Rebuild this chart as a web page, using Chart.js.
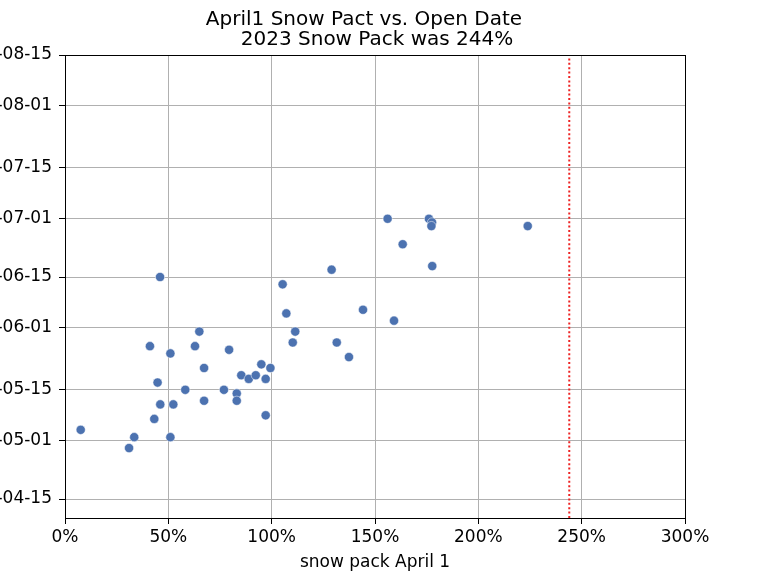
<!DOCTYPE html>
<html>
<head>
<meta charset="utf-8">
<script src="https://cdn.jsdelivr.net/npm/chart.js@4.4.0/dist/chart.umd.min.js"></script>
<style>
    html, body { margin: 0; padding: 0; overflow: hidden; background: #fff; }
    /* canvas pushed left so the year part of the date labels falls off screen */
    #wrap { position: absolute; left: -100px; top: 0; width: 863px; height: 584px; }
</style>
</head>
<body>
<div id="wrap"><canvas id="chart" width="863" height="584"></canvas></div>
<script>
// ============================================
// DATOS
// ============================================
const snowPack = [46, 105.3, 107.1, 111.4, 110.2, 65, 41.1, 62.9, 51, 79.4,
    67.3, 95, 99.4, 85.3, 88.9, 92.3, 97.1, 44.8, 58.2, 76.9,
    83.1, 83.1, 67.3, 46.1, 52.4, 97.1, 43.2, 7.6, 33.5, 51,
    31, 156.1, 176.1, 177.6, 177.3, 223.9, 163.4, 177.7, 129, 144.2,
    159.2, 131.5, 137.4];
const openDates = ['06-15', '06-13', '06-05', '05-31', '05-28', '05-31', '05-27', '05-27', '05-25', '05-26',
    '05-21', '05-22', '05-21', '05-19', '05-18', '05-19', '05-18', '05-17', '05-15', '05-15',
    '05-14', '05-12', '05-12', '05-11', '05-11', '05-08', '05-07', '05-04', '05-02', '05-02',
    '04-29', '07-01', '07-01', '06-30', '06-29', '06-29', '06-24', '06-18', '06-17', '06-06',
    '06-03', '05-28', '05-24'];
const snowPack2023 = 244;
const xTicks = [0, 50, 100, 150, 200, 250, 300];
const yTickDates = ['04-15', '05-01', '05-15', '06-01', '06-15', '07-01', '07-15', '08-01', '08-15'];
const tickYear = '2023';

// dias desde el 1 de abril
const monthStart = { '04': 0, '05': 30, '06': 61, '07': 91, '08': 122 };
function dayOffset(md) {
    const [m, d] = md.split('-');
    return monthStart[m] + Number(d) - 1;
}

const yMin = 8.78;
const yMax = dayOffset('08-15');
const font = 'DejaVu Sans';

// ============================================
// PLUGINS
// ============================================
const titlePlugin = {
    id: 'titulo',
    afterDraw(chart) {
        const ctx = chart.ctx;
        ctx.save();
        ctx.fillStyle = '#000';
        ctx.font = '20px "' + font + '"';
        ctx.textAlign = 'center';
        ctx.textBaseline = 'alphabetic';
        ctx.fillText('April1 Snow Pact vs. Open Date', 464, 25);
        ctx.fillText('2023 Snow Pack was 244%', 477, 45);
        ctx.restore();
    }
};

const framePlugin = {
    id: 'marco',
    afterDraw(chart) {
        const a = chart.chartArea;
        const ctx = chart.ctx;
        ctx.save();
        ctx.strokeStyle = '#000';
        ctx.lineWidth = 1;
        ctx.strokeRect(a.left + 0.5, a.top + 0.5, a.right - a.left, a.bottom - a.top);
        ctx.restore();
    }
};

// ============================================
// GRAFICA
// ============================================
const points = snowPack.map((x, i) => ({ x: x, y: dayOffset(openDates[i]) }));
const yLabels = {};
yTickDates.forEach(d => { yLabels[dayOffset(d)] = tickYear + '-' + d; });

new Chart(document.getElementById('chart'), {
    type: 'scatter',
    data: {
        datasets: [
            {
                data: points,
                backgroundColor: '#4c72b0',
                borderColor: '#ffffff',
                borderWidth: 0.5,
                pointRadius: 4.6,
                pointHoverRadius: 4.6
            },
            {
                type: 'line',
                data: [{ x: snowPack2023, y: yMin }, { x: snowPack2023, y: yMax }],
                borderColor: '#ee2222',
                borderWidth: 2,
                borderDash: [2, 2.4],
                pointRadius: 0,
                fill: false
            }
        ]
    },
    options: {
        responsive: false,
        animation: false,
        layout: { padding: { top: 55, right: 78, bottom: 0, left: 0 } },
        plugins: { legend: { display: false }, tooltip: { enabled: false } },
        scales: {
            x: {
                type: 'linear',
                min: 0,
                max: 300,
                afterBuildTicks: s => { s.ticks = xTicks.map(v => ({ value: v })); },
                afterFit: s => { s.height = 66; },
                ticks: {
                    color: '#000',
                    padding: 3,
                    maxRotation: 0,
                    font: { family: font, size: 17 },
                    callback: v => v + '%'
                },
                grid: { color: '#b0b0b0', tickColor: '#000', tickLength: 6, lineWidth: 1 },
                border: { color: '#000', width: 1 },
                title: {
                    display: true,
                    text: 'snow pack April 1',
                    color: '#000',
                    font: { family: font, size: 17 },
                    padding: { top: 0, bottom: 10.8 }
                }
            },
            y: {
                type: 'linear',
                min: yMin,
                max: yMax,
                afterBuildTicks: s => { s.ticks = yTickDates.map(d => ({ value: dayOffset(d) })); },
                afterFit: s => { s.width = 165; },
                ticks: {
                    color: '#000',
                    padding: 7,
                    font: { family: font, size: 17 },
                    callback: v => yLabels[v]
                },
                grid: { color: '#b0b0b0', tickColor: '#000', tickLength: 6, lineWidth: 1 },
                border: { color: '#000', width: 1 }
            }
        }
    },
    plugins: [titlePlugin, framePlugin]
});
</script>
</body>
</html>
